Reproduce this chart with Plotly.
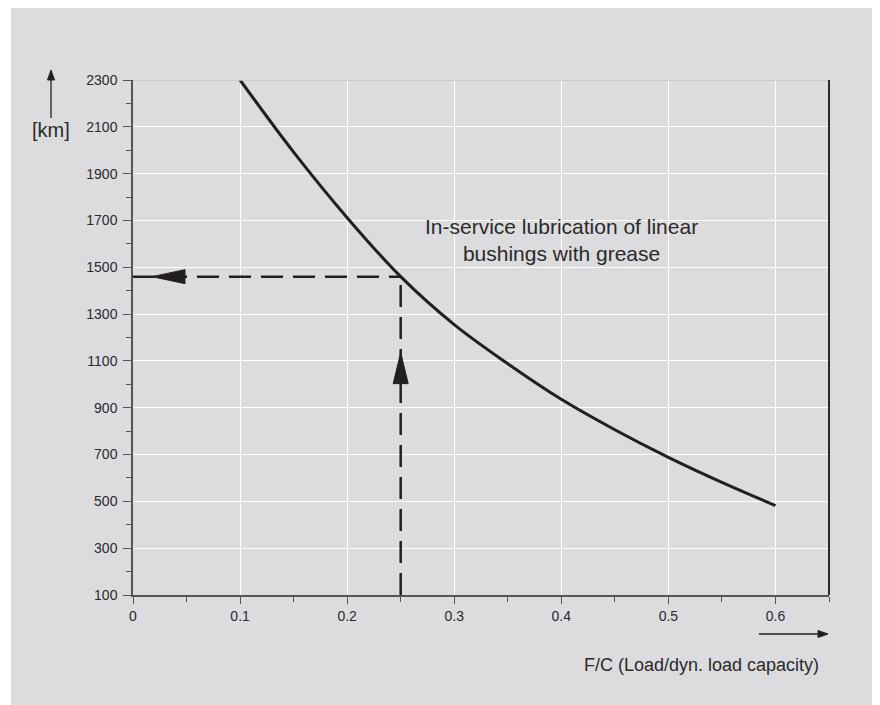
import plotly.graph_objects as go

# Courbe de durée de vie (km) selon F/C
fc = [0.10, 0.15, 0.20, 0.25, 0.30, 0.35, 0.40, 0.45, 0.50, 0.55, 0.60]
km = [2300, 1992, 1712, 1460, 1255, 1088, 936, 806, 688, 581, 482]

# point de lecture (lignes pointillées)
read_fc = 0.25
read_km = 1460

x_ticks = [0, 0.1, 0.2, 0.3, 0.4, 0.5, 0.6]
x_labels = ["0", "0.1", "0.2", "0.3", "0.4", "0.5", "0.6"]
y_ticks = [100, 300, 500, 700, 900, 1100, 1300, 1500, 1700, 1900, 2100, 2300]

bg = "#dcdcde"
ink = "#231f20"
txt = "#2a2a2a"
font = "Liberation Sans, Arial, sans-serif"

fig = go.Figure()

fig.add_trace(go.Scatter(
    x=fc, y=km, mode="lines",
    line=dict(color=ink, width=3, shape="spline", smoothing=1.0),
    hoverinfo="skip",
))

# pointillés: horizontale puis verticale
fig.add_trace(go.Scatter(
    x=[0, read_fc], y=[read_km, read_km], mode="lines",
    line=dict(color=ink, width=2.5, dash="22px,10px"), hoverinfo="skip",
))
fig.add_trace(go.Scatter(
    x=[read_fc, read_fc], y=[y_ticks[0], read_km], mode="lines",
    line=dict(color=ink, width=2.5, dash="22px,10px"), hoverinfo="skip",
))

shapes = [
    # bande blanche à gauche du fond gris
    dict(type="rect", xref="paper", yref="paper", xsizemode="pixel", xanchor=0,
         x0=-130, x1=-122, y0=-0.5, y1=1.5, fillcolor="white", line_width=0),
    # bord haut et bord droit du graphique
    dict(type="line", xref="paper", yref="y", x0=0, x1=1, y0=y_ticks[-1], y1=y_ticks[-1],
         line=dict(color="#c4c4c6", width=1.5)),
    dict(type="line", xref="paper", yref="paper", x0=1, x1=1, y0=0, y1=1,
         line=dict(color="#2b2b2b", width=2)),
    # pointes de flèche des pointillés
    dict(type="path", xref="x", yref="y", xsizemode="pixel", ysizemode="pixel",
         xanchor=0, yanchor=read_km, path="M19,0 L52,7 L52,-7 Z",
         fillcolor=ink, line=dict(color=ink, width=1)),
    dict(type="path", xref="x", yref="y", xsizemode="pixel", ysizemode="pixel",
         xanchor=read_fc, yanchor=read_km, path="M0,-76 L-7.5,-107 L7.5,-107 Z",
         fillcolor=ink, line=dict(color=ink, width=1)),
    # flèche de l'axe y ([km])
    dict(type="line", xref="paper", yref="paper", xsizemode="pixel", ysizemode="pixel",
         xanchor=0, yanchor=1, x0=-82, x1=-82, y0=-38, y1=2,
         line=dict(color=ink, width=1.3)),
    dict(type="path", xref="paper", yref="paper", xsizemode="pixel", ysizemode="pixel",
         xanchor=0, yanchor=1, path="M-85.5,0 L-78.5,0 L-82,10 Z",
         fillcolor=ink, line=dict(color=ink, width=1)),
    # flèche de l'axe x
    dict(type="line", xref="paper", yref="paper", xsizemode="pixel", ysizemode="pixel",
         xanchor=1, yanchor=0, x0=-70, x1=-10, y0=-39, y1=-39,
         line=dict(color=ink, width=1.3)),
    dict(type="path", xref="paper", yref="paper", xsizemode="pixel", ysizemode="pixel",
         xanchor=1, yanchor=0, path="M-11,-35.5 L-11,-42.5 L-1,-39 Z",
         fillcolor=ink, line=dict(color=ink, width=1)),
]

annotations = [
    dict(x=0.4, y=1616, xref="x", yref="y",
         text="In-service lubrication of linear<br>bushings with grease",
         showarrow=False, align="center", font=dict(size=21, color=txt)),
    dict(x=0, y=1, xref="paper", yref="paper", xshift=-82, yshift=-50,
         text="[km]", showarrow=False, xanchor="center", yanchor="middle",
         font=dict(size=20, color=txt)),
    dict(x=1, y=0, xref="paper", yref="paper", xshift=-8, yshift=-70,
         text="F/C (Load/dyn. load capacity)", showarrow=False,
         xanchor="right", yanchor="middle", font=dict(size=18, color=txt)),
]

fig.update_xaxes(
    range=[0, 0.65], tickvals=x_ticks, ticktext=x_labels,
    showgrid=True, gridcolor="white", gridwidth=1, zeroline=False,
    showline=True, linecolor="#555", linewidth=1.5,
    ticks="outside", ticklen=7, tickcolor="#555", tickwidth=1,
    ticklabelstandoff=0,
    minor=dict(dtick=0.05, tick0=0, ticks="outside", ticklen=5, tickcolor="#555", showgrid=False),
    tickfont=dict(size=14, color=txt, family=font),
)
fig.update_yaxes(
    range=[100, 2300], tickvals=y_ticks,
    showgrid=True, gridcolor="white", gridwidth=1, zeroline=False,
    showline=True, linecolor="#555", linewidth=1.5,
    ticks="outside", ticklen=8, tickcolor="#555", tickwidth=1,
    ticklabelstandoff=3,
    minor=dict(dtick=100, tick0=100, ticks="outside", ticklen=5, tickcolor="#555", showgrid=False),
    tickfont=dict(size=14, color=txt, family=font),
)

# la page ajoute une marge de 8 px: figure réduite d'autant
fig.update_layout(
    width=872, height=697,
    margin=dict(l=125, r=51, t=72, b=110),
    paper_bgcolor=bg, plot_bgcolor=bg,
    showlegend=False,
    font=dict(family=font, color=txt),
    shapes=shapes, annotations=annotations,
)

fig.write_html("out.html")
